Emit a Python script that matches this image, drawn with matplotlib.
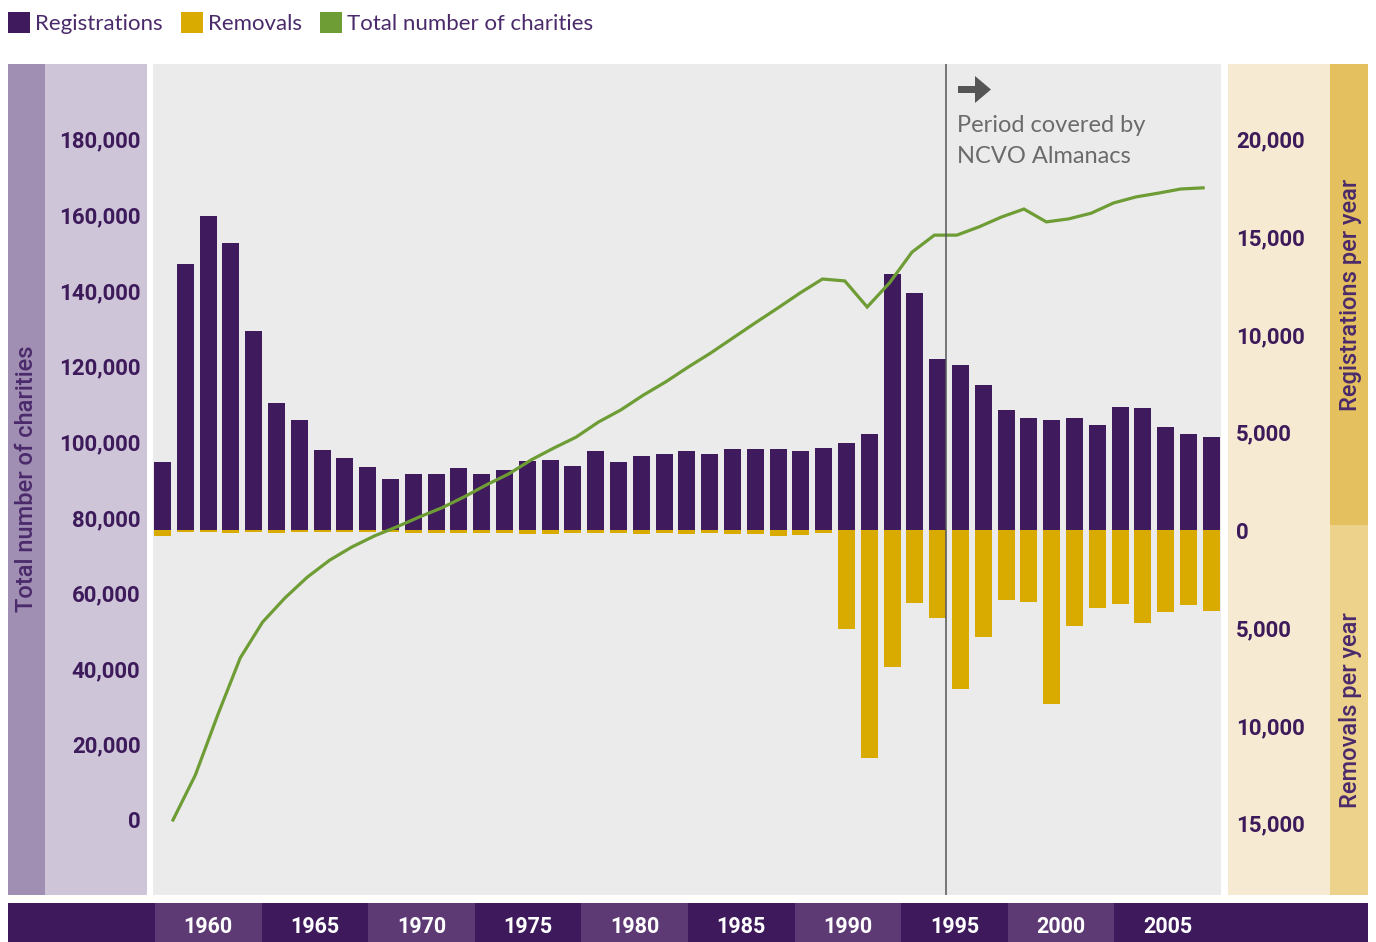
import numpy as np
import matplotlib
matplotlib.use("Agg")
import matplotlib.pyplot as plt
from matplotlib.patches import Rectangle, Polygon

# Данные
registrations = [3480, 13600, 16060, 14680, 10180, 6500, 5630, 4090, 3680, 3220,
                 2610, 2860, 2860, 3170, 2860, 3070, 3530, 3580, 3270, 4040,
                 3480, 3790, 3890, 4040, 3890, 4140, 4140, 4140, 4040, 4190,
                 4450, 4910, 13100, 12120, 8750, 8440, 7420, 6140, 5730, 5630,
                 5730, 5370, 6290, 6240, 5270, 4910, 4760]
removals = [300, 100, 100, 150, 100, 150, 100, 100, 100, 100,
            100, 150, 150, 150, 150, 150, 200, 200, 150, 150,
            150, 200, 150, 200, 150, 200, 200, 300, 250, 150,
            5060, 11660, 7000, 3730, 4500, 8130, 5470, 3580, 3680, 8900,
            4910, 3990, 3790, 4760, 4190, 3840, 4140]
total_charities = [0, 11900, 27800, 42800, 52300, 58700, 64200, 68700, 72200, 75100,
                   77500, 80100, 82500, 85400, 88600, 91500, 95200, 98300, 101200, 105200,
                   108400, 112300, 115800, 119700, 123400, 127400, 131400, 135300, 139300, 143000,
                   142500, 135600, 142000, 150100, 154600, 154600, 156800, 159400, 161500, 158100,
                   158900, 160400, 163100, 164700, 165700, 166800, 167100]
year_labels = ["1960", "1965", "1970", "1975", "1980", "1985", "1990", "1995", "2000", "2005"]
left_ticks = list(range(0, 180001, 20000))
right_ticks = list(range(-15000, 20001, 5000))

PURPLE = "#3f1a5c"
GOLD = "#d9aa00"
GREEN = "#6e9c35"
TXT = "#3d1a5a"
FONT = "Lato"
BOLD_FONT = "Roboto"

W, H = 1376, 942
fig = plt.figure(figsize=(W / 100, H / 100), dpi=100)

# фон - оси во весь рисунок в пикселях
bg = fig.add_axes([0, 0, 1, 1])
bg.set_xlim(0, W)
bg.set_ylim(H, 0)
bg.axis("off")
bg.set_zorder(0)

def box(x0, y0, x1, y1, color):
    bg.add_patch(Rectangle((x0, y0), x1 - x0, y1 - y0, color=color, lw=0))

box(8, 64, 45, 895, "#a08fb3")
box(45, 64, 147, 895, "#cfc5d9")
box(1228, 64, 1330, 895, "#f7ead2")
box(1330, 64, 1368, 525, "#e5c05e")
box(1330, 525, 1368, 895, "#edd28c")

# нижняя полоса с годами
box(8, 903, 1368, 942, "#3e1a5c")
band_w = 106.6
for i, lab in enumerate(year_labels):
    x0 = 155 + i * band_w
    if i % 2 == 0:
        box(x0, 903, x0 + band_w, 942, "#5e3a74")
    bg.text(x0 + band_w / 2, 927, lab, color="white", fontsize=15.5, fontweight="bold",
            family=BOLD_FONT, ha="center", va="center")

# подписи осей
bg.text(27, 479, "Total number of charities", rotation=90, color="#4b2a6b", fontsize=17,
        fontweight="medium", family=BOLD_FONT, ha="center", va="center")
bg.text(1350, 295, "Registrations per year", rotation=90, color="#4b2a6b", fontsize=17,
        fontweight="medium", family=BOLD_FONT, ha="center", va="center")
bg.text(1350, 710, "Removals per year", rotation=90, color="#4b2a6b", fontsize=17,
        fontweight="medium", family=BOLD_FONT, ha="center", va="center")

# легенда
legend_items = [("Registrations", PURPLE, 8), ("Removals", GOLD, 181), ("Total number of charities", GREEN, 320)]
for name, col, x0 in legend_items:
    box(x0, 12, x0 + 22, 33, col)
    bg.text(x0 + 27, 24, name, color="#4b2a6b", fontsize=16, fontweight="normal",
            family=FONT, ha="left", va="center")

# основная область
ax = fig.add_axes([153 / W, 1 - 895 / H, (1221 - 153) / W, (895 - 64) / H])
ax.set_zorder(2)
ax.set_facecolor("#ebebeb")
x = np.arange(len(registrations))
width = 0.75
ax.bar(x, registrations, width=width, color=PURPLE, lw=0)
ax.bar(x, [-r for r in removals], width=width, color=GOLD, lw=0)
ax.set_xlim((153 - 162.5) / 22.8, (1221 - 162.5) / 22.8)
ax.set_ylim(-18670, 23840)
ax.set_xticks([])
for s in ax.spines.values():
    s.set_visible(False)

ax2 = ax.twinx()
ax2.set_zorder(3)
ax2.patch.set_visible(False)
line_x = np.linspace(0.46, 45.64, len(total_charities))
ax2.plot(line_x, total_charities, color=GREEN, lw=2.3, solid_joinstyle="miter")
ax2.set_ylim(-19830, 199840)
for s in ax2.spines.values():
    s.set_visible(False)

# правая шкала - регистрации/удаления, левая - общее число
ax.yaxis.tick_right()
ax.set_yticks(right_ticks)
ax.set_yticklabels([f"{abs(v):,}" for v in right_ticks])
ax.tick_params(axis="y", which="both", left=False, labelleft=False, right=False,
               labelright=True, length=0, pad=11, labelsize=16, labelcolor=TXT)
ax2.yaxis.tick_left()
ax2.set_yticks(left_ticks)
ax2.set_yticklabels([f"{v:,}" for v in left_ticks])
ax2.tick_params(axis="y", which="both", right=False, labelright=False, left=False,
                labelleft=True, length=0, pad=9, labelsize=16, labelcolor=TXT)
for lab in ax.get_yticklabels() + ax2.get_yticklabels():
    lab.set_fontweight("bold")
    lab.set_family(BOLD_FONT)

# граница периода NCVO Almanacs
ax2.axvline(34 + width / 2, color="#555555", lw=1.1)
ax2.add_patch(Polygon([(958, 86), (975, 86), (975, 76), (991, 89.5), (975, 103), (975, 93), (958, 93)],
                      closed=True, color="#555555", lw=0, transform=bg.transData))
ax2.text(957, 132, "Period covered by", color="#6b6b6b", fontsize=17, fontweight="normal",
         family=FONT, transform=bg.transData, ha="left", va="baseline")
ax2.text(957, 163, "NCVO Almanacs", color="#6b6b6b", fontsize=17, fontweight="normal",
         family=FONT, transform=bg.transData, ha="left", va="baseline")

fig.savefig("out.png", dpi=100)
